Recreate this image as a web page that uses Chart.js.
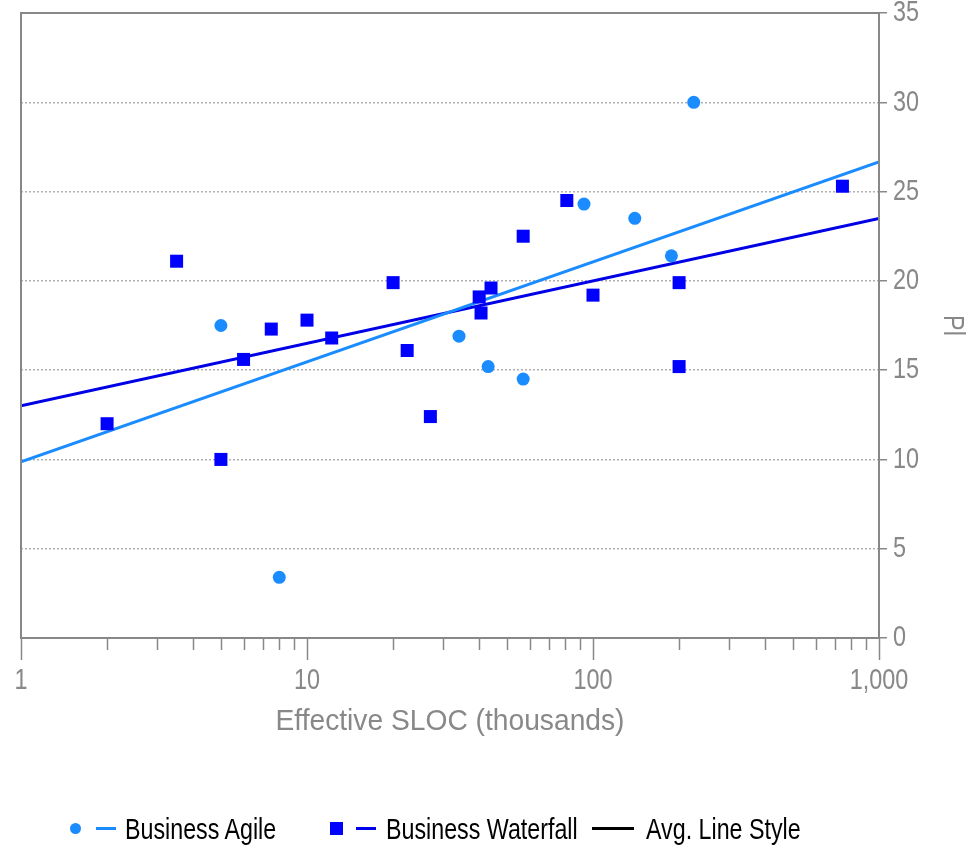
<!DOCTYPE html>
<html>
<head>
<meta charset="utf-8">
<script src="https://cdn.jsdelivr.net/npm/chart.js@4.4.1/dist/chart.umd.min.js"></script>
<style>
  html, body { margin: 0; padding: 0; background: #fff; }
  #wrap { position: relative; width: 970px; height: 851px; }
  #legend {
    position: absolute; left: 0; top: 811px; height: 36px;
    font-family: 'Liberation Sans', Arial, sans-serif;
    font-size: 30px; color: #000; white-space: nowrap;
  }
  .item {
    position: absolute; top: 0; height: 36px; line-height: 36px;
    transform: scaleX(0.775); transform-origin: left center;
  }
  .mk { position: absolute; }
</style>
</head>
<body>
<div id="wrap">
  <canvas id="chart" width="970" height="851"></canvas>
  <div id="legend">
    <span class="mk" style="left:70px;top:12px;width:11px;height:11px;border-radius:50%;background:#1a8cff"></span>
    <span class="mk" style="left:96px;top:16px;width:20px;height:3px;background:#1a8cff"></span>
    <span class="item" style="left:125px">Business Agile</span>
    <span class="mk" style="left:330px;top:11px;width:13px;height:13px;background:#0000ff"></span>
    <span class="mk" style="left:356px;top:16px;width:20px;height:3px;background:#0000ee"></span>
    <span class="item" style="left:386px">Business Waterfall</span>
    <span class="mk" style="left:592px;top:16px;width:42px;height:3px;background:#000"></span>
    <span class="item" style="left:646px">Avg. Line Style</span>
  </div>
</div>
<script>
// Chart data
const agileX = [5, 8, 34, 43, 57, 93, 140, 188, 225];
const agileY = [17.5, 3.4, 16.9, 15.2, 14.5, 24.3, 23.5, 21.4, 30.0];
const waterfallX = [2, 3.5, 5, 6, 7.5, 10, 12.2, 20, 22.4, 27, 40, 40.6, 44, 57, 81, 100, 200, 200, 745];
const waterfallY = [12.0, 21.1, 10.0, 15.6, 17.3, 17.8, 16.8, 19.9, 16.1, 12.4, 19.1, 18.2, 19.6, 22.5, 24.5, 19.2, 19.9, 15.2, 25.3];
const trendX = [1, 1000];
const agileTrend = [9.86, 26.66];
const waterfallTrend = [13.0, 23.5];
const xMajorTicks = [1, 10, 100, 1000];
const yTicks = [0, 5, 10, 15, 20, 25, 30, 35];

const FONT = "'Liberation Sans', Arial, sans-serif";
const TITLE_FONT = "'Liberation Sans', Helvetica, sans-serif";
const AGILE = '#1a8cff';
const WATER = '#0000ff';
const AXIS = '#888888';

// no narrow font installed, so squeeze canvas text (x title a bit less)
const squeezeFor = (font) => font.indexOf('Helvetica') >= 0 ? 0.94 : 0.78;

const toPts = (xs, ys) => xs.map((x, i) => ({ x: x, y: ys[i] }));

// minor + major tick values for the log axis
const xAllTicks = [];
for (let d = 1; d < 1000; d *= 10) {
    for (let m = 1; m < 10; m++) xAllTicks.push(m * d);
}
xAllTicks.push(1000);

// frame around the plot + log tick marks
const framePlugin = {
    id: 'frame',
    afterDraw(chart) {
        const { ctx, chartArea: a, scales } = chart;
        ctx.save();
        ctx.strokeStyle = AXIS;
        ctx.lineWidth = 2;
        ctx.strokeRect(a.left, a.top, a.right - a.left, a.bottom - a.top);
        ctx.lineWidth = 1.5;
        xAllTicks.forEach(v => {
            const px = Math.round(scales.x.getPixelForValue(v)) + 0.5;
            const len = xMajorTicks.includes(v) ? 22 : 12;
            ctx.beginPath();
            ctx.moveTo(px, a.bottom);
            ctx.lineTo(px, a.bottom + len);
            ctx.stroke();
        });
        ctx.restore();
    }
};

const ctx = document.getElementById('chart').getContext('2d');

// condensed text: scale glyphs horizontally around the anchor point
const baseFill = ctx.fillText;
const baseMeasure = ctx.measureText;
ctx.fillText = function(text, x, y, maxWidth) {
    const s = squeezeFor(this.font);
    this.save();
    this.translate(x, y);
    this.scale(s, 1);
    if (maxWidth === undefined) baseFill.call(this, text, 0, 0);
    else baseFill.call(this, text, 0, 0, maxWidth / s);
    this.restore();
};
ctx.measureText = function(text) {
    const m = baseMeasure.call(this, text);
    return { width: m.width * squeezeFor(this.font) };
};

const chart = new Chart(ctx, {
    type: 'scatter',
    data: {
        datasets: [{
            label: 'Business Agile',
            data: toPts(agileX, agileY),
            backgroundColor: AGILE,
            borderWidth: 0,
            pointStyle: 'circle',
            pointRadius: 6.5,
            order: 0
        }, {
            label: 'Business Waterfall',
            data: toPts(waterfallX, waterfallY),
            backgroundColor: WATER,
            borderWidth: 0,
            pointStyle: 'rect',
            pointRadius: 9.2,
            order: 0
        }, {
            label: 'Agile trend',
            data: toPts(trendX, agileTrend),
            showLine: true,
            borderColor: AGILE,
            borderWidth: 3,
            pointRadius: 0,
            order: 1
        }, {
            label: 'Waterfall trend',
            data: toPts(trendX, waterfallTrend),
            showLine: true,
            borderColor: '#0000e6',
            borderWidth: 3,
            pointRadius: 0,
            order: 1
        }]
    },
    options: {
        responsive: false,
        animation: false,
        layout: { padding: { left: 21, top: 13, right: 0, bottom: 111 } },
        plugins: {
            legend: { display: false },
            tooltip: { enabled: false }
        },
        scales: {
            x: {
                type: 'logarithmic',
                min: 1,
                max: 1000,
                afterBuildTicks: (scale) => {
                    scale.ticks = xMajorTicks.map(v => ({ value: v }));
                },
                afterFit: (scale) => {
                    scale.height = 102;
                    scale.paddingLeft = 0;
                    scale.paddingRight = 0;
                },
                grid: { display: false, drawTicks: false },
                border: { display: false },
                ticks: {
                    color: AXIS,
                    padding: 25,
                    maxRotation: 0,
                    autoSkip: false,
                    font: { family: FONT, size: 30 },
                    callback: (v) => Number(v).toLocaleString('en-US')
                },
                title: {
                    display: true,
                    text: 'Effective SLOC (thousands)',
                    color: AXIS,
                    padding: 0,
                    font: { family: TITLE_FONT, size: 30 }
                }
            },
            y: {
                position: 'right',
                min: 0,
                max: 35,
                afterBuildTicks: (scale) => {
                    scale.ticks = yTicks.map(v => ({ value: v }));
                },
                afterFit: (scale) => {
                    scale.width = 91;
                    scale.paddingTop = 0;
                    scale.paddingBottom = 0;
                },
                grid: {
                    color: (c) => (c.tick && (c.tick.value === 0 || c.tick.value === 35)) ? 'rgba(0,0,0,0)' : '#b0b0b0',
                    lineWidth: 1.5,
                    tickColor: AXIS,
                    tickWidth: 1.5,
                    tickLength: 8,
                    tickBorderDash: []
                },
                border: { display: false, dash: [2, 2] },
                ticks: {
                    color: AXIS,
                    padding: 6,
                    font: { family: FONT, size: 30 }
                },
                title: {
                    display: true,
                    text: 'Pl',
                    color: AXIS,
                    padding: 0,
                    font: { family: FONT, size: 30 }
                }
            }
        }
    },
    plugins: [framePlugin]
});
</script>
</body>
</html>
